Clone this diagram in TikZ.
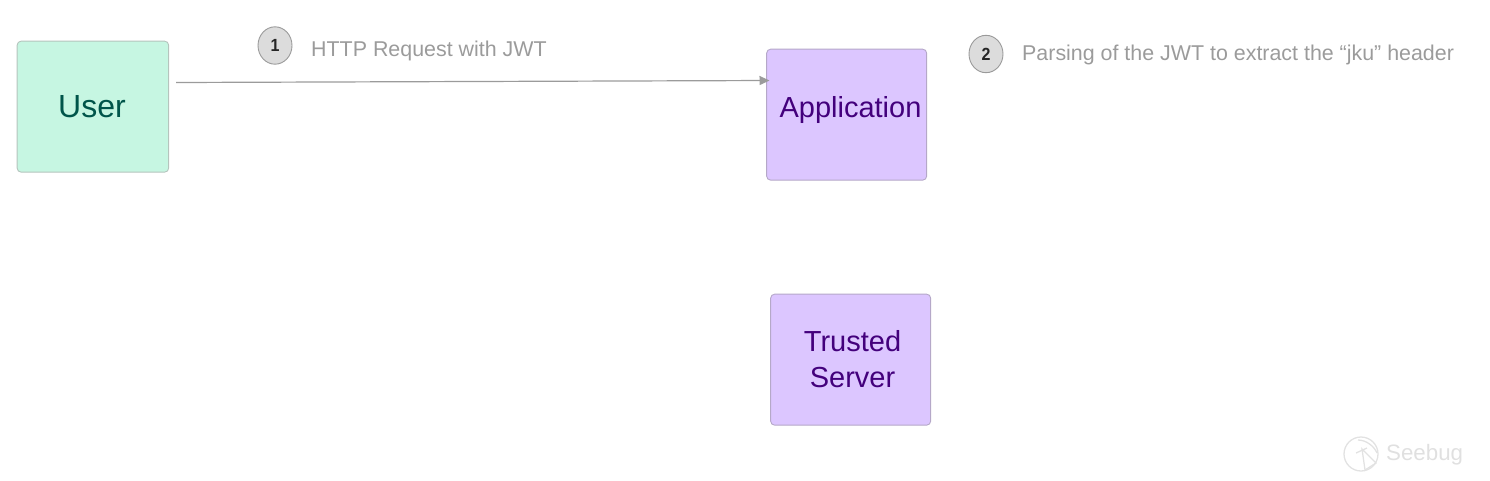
\documentclass[tikz,border=0pt]{standalone}
\usepackage{fontspec}
\setmainfont{Liberation Sans}
\usetikzlibrary{arrows.meta}
\definecolor{usergreen}{HTML}{C6F6E2}
\definecolor{userborder}{HTML}{B5C4BD}
\definecolor{usertext}{HTML}{00554A}
\definecolor{apppurple}{HTML}{DCC6FF}
\definecolor{appborder}{HTML}{B5A8C8}
\definecolor{apptext}{HTML}{43007C}
\definecolor{labelgray}{HTML}{9B9B9B}
\definecolor{circlefill}{HTML}{DCDCDC}
\definecolor{circleborder}{HTML}{9A9A9A}
\definecolor{wmline}{HTML}{E2E2E2}
\tikzset{
  x=1pt,y=1pt,
  boxbase/.style={draw,line width=0.9pt,rounded corners=4pt,anchor=north west,inner sep=0pt,align=center},
  userbox/.style={boxbase,draw=userborder,fill=usergreen,text=usertext,minimum width=151.5pt,minimum height=131pt},
  appbox/.style={boxbase,draw=appborder,fill=apppurple,text=apptext,minimum width=160pt,minimum height=131pt},
  badge/.style={circle,draw=circleborder,line width=0.9pt,fill=circlefill,text=black!85,minimum size=34pt,inner sep=0pt,font=\bfseries\fontsize{16}{18}\selectfont,yscale=1.1},
  steplabel/.style={anchor=base west,inner sep=0pt,text=labelgray,font=\fontsize{21.4}{24}\selectfont},
  flow/.style={draw=labelgray,line width=1.2pt,-{Triangle[length=10pt,width=9pt]}},
  wmstroke/.style={draw=wmline,line width=1.3pt},
  boxtext/.style={inner sep=0pt,align=center},
}
\begin{document}
\begin{tikzpicture}
\useasboundingbox (0,0) rectangle (1490,-480);
\node[userbox] (user) at (16.7,-40.7) {};
\node[boxtext,text=usertext,font=\fontsize{32}{36}\selectfont] (userlabel) at (92,-107) {User};
\node[appbox] (app) at (766.2,-48.7) {};
\node[boxtext,text=apptext,font=\fontsize{29}{35.5}\selectfont] (applabel) at (850.5,-110) {Application};
\node[appbox] (server) at (770.2,-293.7) {};
\node[boxtext,text=apptext,font=\fontsize{29}{35.5}\selectfont] (serverlabel) at (852.5,-359) {Trusted\\Server};
\node[badge] (b1) at (275,-45.5) {1};
\node[badge] (b2) at (986,-54) {2};
\node[steplabel] (l1) at (311,-56) {HTTP Request with JWT};
\node[steplabel] (l2) at (1022,-60) {Parsing of the JWT to extract the “jku” header};
\coordinate (start) at (176,-82.5);
\coordinate (end) at (769.5,-80.5);
\draw[flow] (start) -- (end);
% watermark
\draw[wmstroke] (1361,-454) circle (17);
\draw[wmstroke] (1358,-440) .. controls (1366,-440) and (1374,-446) .. (1377,-453);
\draw[wmstroke] (1356,-453) -- (1367,-448);
\draw[wmstroke] (1362,-449) -- (1365,-470) -- (1376,-463) -- cycle;
\node[anchor=base west,inner sep=0pt,text=black!12,font=\fontsize{22.3}{26}\selectfont] (wm) at (1386,-460) {Seebug};
\end{tikzpicture}
\end{document}
